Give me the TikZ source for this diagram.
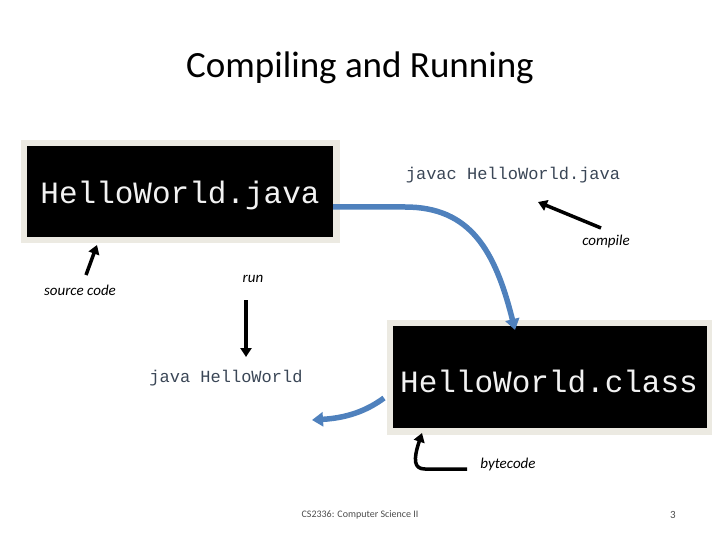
\documentclass[tikz,border=0pt]{standalone}
\usepackage{fontspec}
\setmainfont{Carlito}
\newfontfamily\mono{Liberation Mono}
\usetikzlibrary{arrows.meta}
\definecolor{frame}{HTML}{ECEAE2}
\definecolor{bluearr}{HTML}{4F81BD}
\definecolor{cmd}{HTML}{3A4656}
\tikzset{
 px/.style={x=1pt,y=-1pt},
 termtxt/.style={font=\mono\fontsize{31}{31}\selectfont, text=white!90!gray, inner sep=0},
 cmdtxt/.style={font=\mono\fontsize{17}{17}\selectfont, text=cmd, inner sep=0},
 lbl/.style={font=\itshape\fontsize{15}{15}\selectfont, inner sep=0},
 blk/.style={line width=3.5pt, -{Triangle[width=11pt,length=9pt]}},
 blu/.style={line width=5.5pt, bluearr, -{Triangle[width=14pt,length=11pt]}},
}
\begin{document}
\begin{tikzpicture}[px]
\useasboundingbox (0,0) rectangle (720,540);
\node[font=\fontsize{37}{37}\selectfont] (title) at (360,68) {Compiling and Running};
\fill[frame] (21,140) rectangle (340,243);
\fill[black] (27,146) rectangle (333,237);
\node[termtxt] (java) at (180,195) {HelloWorld.java};
\fill[frame] (387,320) rectangle (712,435);
\fill[black] (393,326) rectangle (707,428);
\node[termtxt] (cls) at (549,381) {HelloWorld.class};
\node[cmdtxt] (javac) at (513,175) {javac HelloWorld.java};
\node[cmdtxt] (run) at (226,378) {java HelloWorld};
\node[lbl] (src) at (80,290) {source code};
\node[lbl] (comp) at (606,242) {compile};
\node[lbl] (runl) at (253,279) {run};
\node[lbl] (bc) at (508,464) {bytecode};
\coordinate (a1) at (333,207);
\coordinate (a2) at (515,330);
\draw[blu] (a1) -- (405,207) .. controls (470,207) and (495,250) .. (a2);
\coordinate (b1) at (384,398);
\coordinate (b2) at (312,420);
\draw[blu] (b1) .. controls (365,412) and (345,418) .. (b2);
\coordinate (s1) at (86,275); \coordinate (s2) at (97,245);
\draw[blk] (s1) -- (s2);
\coordinate (c1) at (601,228); \coordinate (c2) at (538,202);
\draw[blk] (c1) -- (c2);
\coordinate (r1) at (246,300); \coordinate (r2) at (246,357);
\draw[blk] (r1) -- (r2);
\coordinate (d1) at (467,469); \coordinate (d2) at (422,433);
\draw[blk] (d1) -- (425,469) .. controls (414,469) and (413,460) .. (d2);
\node[font=\fontsize{10}{10}\selectfont, text=black!70] (foot) at (360,515) {CS2336: Computer Science II};
\node[font=\fontsize{11}{11}\selectfont, text=black!70] (pg) at (673,515) {3};
\end{tikzpicture}
\end{document}
